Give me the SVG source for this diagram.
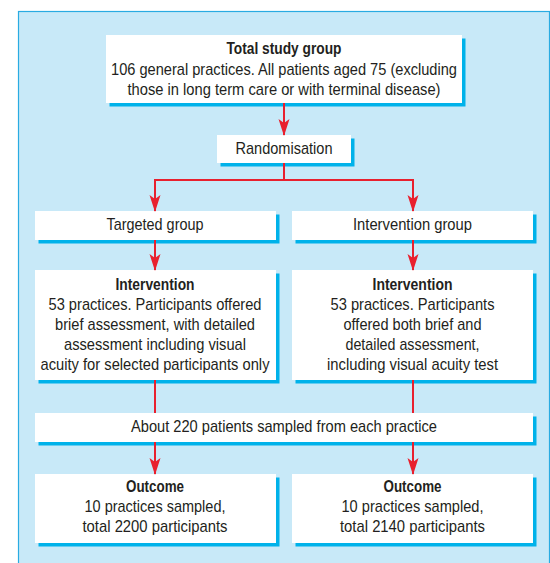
<svg xmlns="http://www.w3.org/2000/svg" width="550" height="563" viewBox="0 0 550 563">
<defs>
<style>
.bg{fill:#c8e9f8;stroke:#29abe2;stroke-width:1.2}
.box{fill:#ffffff}
.sh{fill:#00b2ea}
.t{font-family:"Liberation Sans",Arial,sans-serif;font-size:17px;fill:#231f20;text-anchor:middle}
.b{font-weight:bold}
.c{stroke:#e8202e;stroke-width:2;fill:none}
</style>
<marker id="ah" viewBox="0 0 17 12" refX="16" refY="6" markerWidth="17" markerHeight="12" markerUnits="userSpaceOnUse" orient="auto-start-reverse">
<path d="M17,6 L0,0.5 L4,6 L0,11.5 Z" fill="#e8202e"/>
</marker>
</defs>
<rect class="bg" x="18.5" y="11.5" width="531" height="560"/>

<g id="total">
<rect class="sh" x="109.5" y="38.5" width="356" height="68"/>
<rect class="box" x="106" y="35" width="356" height="68"/>
<text class="t b" x="284" y="54" textLength="115" lengthAdjust="spacingAndGlyphs">Total study group</text>
<text class="t" x="284" y="74.5" textLength="346" lengthAdjust="spacingAndGlyphs">106 general practices. All patients aged 75 (excluding</text>
<text class="t" x="284" y="95" textLength="313" lengthAdjust="spacingAndGlyphs">those in long term care or with terminal disease)</text>
</g>

<g id="random">
<rect class="sh" x="220.5" y="138.5" width="134" height="28"/>
<rect class="box" x="217" y="135" width="134" height="28"/>
<text class="t" x="284" y="154" textLength="97" lengthAdjust="spacingAndGlyphs">Randomisation</text>
</g>

<g id="targeted">
<rect class="sh" x="38.5" y="214.5" width="241" height="29"/>
<rect class="box" x="35" y="211" width="241" height="29"/>
<text class="t" x="155" y="230" textLength="97" lengthAdjust="spacingAndGlyphs">Targeted group</text>
</g>

<g id="intgroup">
<rect class="sh" x="295.5" y="214.5" width="241" height="29"/>
<rect class="box" x="292" y="211" width="241" height="29"/>
<text class="t" x="412.5" y="230" textLength="119" lengthAdjust="spacingAndGlyphs">Intervention group</text>
</g>

<g id="int-left">
<rect class="sh" x="38.5" y="273.5" width="241" height="110"/>
<rect class="box" x="35" y="270" width="241" height="110"/>
<text class="t b" x="155" y="290" textLength="79" lengthAdjust="spacingAndGlyphs">Intervention</text>
<text class="t" x="155" y="310" textLength="213" lengthAdjust="spacingAndGlyphs">53 practices. Participants offered</text>
<text class="t" x="155" y="330" textLength="200" lengthAdjust="spacingAndGlyphs">brief assessment, with detailed</text>
<text class="t" x="155" y="350" textLength="182" lengthAdjust="spacingAndGlyphs">assessment including visual</text>
<text class="t" x="155" y="370" textLength="229" lengthAdjust="spacingAndGlyphs">acuity for selected participants only</text>
</g>

<g id="int-right">
<rect class="sh" x="295.5" y="273.5" width="241" height="110"/>
<rect class="box" x="292" y="270" width="241" height="110"/>
<text class="t b" x="412.5" y="290" textLength="80" lengthAdjust="spacingAndGlyphs">Intervention</text>
<text class="t" x="412.5" y="310" textLength="164" lengthAdjust="spacingAndGlyphs">53 practices. Participants</text>
<text class="t" x="412.5" y="330" textLength="138" lengthAdjust="spacingAndGlyphs">offered both brief and</text>
<text class="t" x="412.5" y="350" textLength="134" lengthAdjust="spacingAndGlyphs">detailed assessment,</text>
<text class="t" x="412.5" y="370" textLength="171" lengthAdjust="spacingAndGlyphs">including visual acuity test</text>
</g>

<g id="sampled">
<rect class="sh" x="38.5" y="416.5" width="498" height="29"/>
<rect class="box" x="35" y="413" width="498" height="29"/>
<text class="t" x="284" y="432" textLength="306" lengthAdjust="spacingAndGlyphs">About 220 patients sampled from each practice</text>
</g>

<g id="out-left">
<rect class="sh" x="38.5" y="477.5" width="241" height="69"/>
<rect class="box" x="35" y="474" width="241" height="69"/>
<text class="t b" x="155" y="492" textLength="58" lengthAdjust="spacingAndGlyphs">Outcome</text>
<text class="t" x="155" y="512" textLength="141" lengthAdjust="spacingAndGlyphs">10 practices sampled,</text>
<text class="t" x="155" y="532" textLength="145" lengthAdjust="spacingAndGlyphs">total 2200 participants</text>
</g>

<g id="out-right">
<rect class="sh" x="295.5" y="477.5" width="241" height="69"/>
<rect class="box" x="292" y="474" width="241" height="69"/>
<text class="t b" x="412.5" y="492" textLength="58" lengthAdjust="spacingAndGlyphs">Outcome</text>
<text class="t" x="412.5" y="512" textLength="142" lengthAdjust="spacingAndGlyphs">10 practices sampled,</text>
<text class="t" x="412.5" y="532" textLength="145" lengthAdjust="spacingAndGlyphs">total 2140 participants</text>
</g>

<g id="connectors">
<path class="c" d="M284,103 V135" marker-end="url(#ah)"/>
<path class="c" d="M284,163 V180"/>
<path class="c" d="M155,211 V180 H413 V211" marker-start="url(#ah)" marker-end="url(#ah)"/>
<path class="c" d="M155,240 V270" marker-end="url(#ah)"/>
<path class="c" d="M413,240 V270" marker-end="url(#ah)"/>
<path class="c" d="M155,380 V413"/>
<path class="c" d="M413,380 V413"/>
<path class="c" d="M155,442 V474" marker-end="url(#ah)"/>
<path class="c" d="M413,442 V474" marker-end="url(#ah)"/>
</g>
</svg>
